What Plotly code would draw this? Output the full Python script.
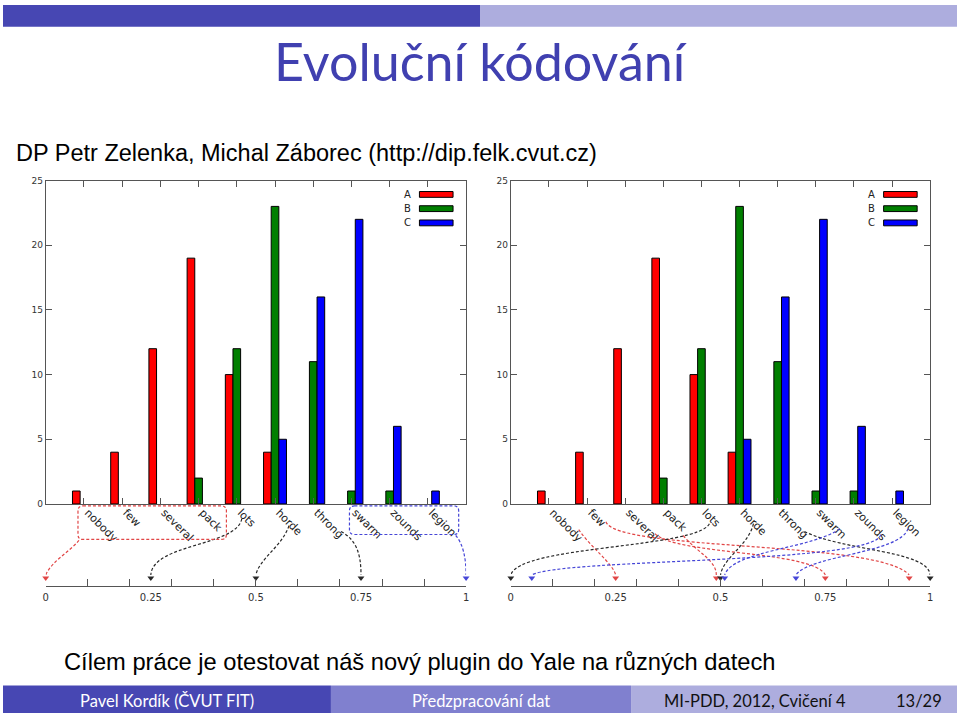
import plotly.graph_objects as go

# ---- data -----------------------------------------------------------------
categories = ["nobody", "few", "several", "pack", "lots",
              "horde", "throng", "swarm", "zounds", "legion"]
series_names = ["A", "B", "C"]
values_a = [1, 4, 12, 19, 10, 4, 0, 0, 0, 0]
values_b = [0, 0, 0, 2, 12, 23, 11, 1, 1, 0]
values_c = [0, 0, 0, 0, 0, 5, 16, 22, 6, 1]
series_colors = ["#ff0000", "#007f00", "#0000ff"]

# value on the [0, 1] scale that each category is encoded to
left_targets = [0, 0, 0, 0, 0.25, 0.5, 0.75, 1, 1, 1]
right_targets = [0.25, 0.95, 0.75, 0.49, 0, 0.5, 1, 0.51, 0.05, 0.68]
scale_labels = [0, 0.25, 0.5, 0.75, 1]
y_ticks = [0, 5, 10, 15, 20, 25]

# ---- slide geometry (pixels) ---------------------------------------------
FIG_W, FIG_H = 960, 718
PLOT_TOP, PLOT_BOTTOM = 178, 506
SCALE_Y = 589
CHARTS = [(43, 466), (511, 933)]   # left / right edge of each chart
N_SLOTS = len(categories) + 1       # category axis runs from -1 to n

RED = "rgb(225,70,70)"
BLACK = "rgb(40,40,40)"
BLUE = "rgb(70,70,215)"
group_colors = [RED] * 4 + [BLACK] * 3 + [BLUE] * 3
DASH = "3px,2px"

AXIS_FONT = dict(family="DejaVu Sans", size=9, color="#333")


def px(x):
    return x / FIG_W


def py(y):
    return 1 - y / FIG_H


fig = go.Figure()

# bars for both charts (the slide shows the same histogram twice)
for k, (xa, ya) in enumerate([("x", "y"), ("x2", "y2")]):
    for name, vals, col in zip(series_names, [values_a, values_b, values_c], series_colors):
        fig.add_trace(go.Bar(
            x=categories, y=vals, name=name, xaxis=xa, yaxis=ya,
            marker=dict(color=col, line=dict(color="black",
                                             width=[1 if v > 0 else 0 for v in vals])),
            showlegend=False,
        ))

frame = dict(showline=True, linecolor="#555", linewidth=1, mirror="ticks",
             ticks="inside", ticklen=6, tickcolor="#555", showgrid=False,
             zeroline=False)

layout_axes = {}
for k, (left, right) in enumerate(CHARTS):
    sx = "" if k == 0 else "2"
    layout_axes["xaxis" + sx] = dict(
        domain=[px(left), px(right)], anchor="y" + sx, type="category",
        range=[-1, len(categories)], tickangle=45,
        ticklabelstandoff=-3, ticklabelshift=4,
        tickfont=dict(family="DejaVu Sans", size=11, color="#222"), **frame)
    layout_axes["yaxis" + sx] = dict(
        domain=[py(PLOT_BOTTOM), py(PLOT_TOP)], anchor="x" + sx,
        range=[0, 25], tickvals=y_ticks, tickfont=AXIS_FONT, **frame)

# lower [0, 1] scales: ticks every 0.1 on one axis, labels on an overlay
y3_range = [0, SCALE_Y - PLOT_BOTTOM]
layout_axes["yaxis3"] = dict(domain=[py(SCALE_Y), py(PLOT_BOTTOM)], range=y3_range,
                             anchor="x3", visible=False, fixedrange=True)
for k, (left, right) in enumerate(CHARTS):
    base, over = ("x3", "x5") if k == 0 else ("x4", "x6")
    layout_axes["xaxis" + base[1:]] = dict(
        domain=[px(left), px(right)], anchor="y3", range=[0, 1],
        showline=True, linecolor="#555", linewidth=1,
        ticks="inside", ticklen=7, tickcolor="#555", tick0=0, dtick=0.1,
        showticklabels=False, showgrid=False, zeroline=False)
    layout_axes["xaxis" + over[1:]] = dict(
        overlaying=base, anchor="y3", range=[0, 1], tickvals=scale_labels,
        ticktext=[f"{v:g}" for v in scale_labels], ticks="", showline=False,
        ticklabelstandoff=4, showgrid=False, zeroline=False,
        tickfont=dict(family="DejaVu Sans", size=10, color="#333"))
    fig.add_trace(go.Scatter(x=scale_labels, y=[0] * len(scale_labels), xaxis=over, yaxis="y3",
                             mode="markers", marker=dict(opacity=0), showlegend=False,
                             hoverinfo="skip"))

shapes = []
annotations = []

# custom legend (label left of a wide swatch, as in gnuplot)
for k in range(2):
    sx = "" if k == 0 else "2"
    for j, (name, col) in enumerate(zip(series_names, series_colors)):
        yc = 0.957 - j * 0.044
        shapes.append(dict(type="rect", xref=f"x{sx} domain", yref=f"y{sx} domain",
                           x0=0.889, x1=0.969, y0=yc - 0.009, y1=yc + 0.009,
                           fillcolor=col, line=dict(color="black", width=1)))
        annotations.append(dict(text=name, xref=f"x{sx} domain", yref=f"y{sx} domain",
                                x=0.873, y=yc, xanchor="right", yanchor="middle",
                                showarrow=False, font=dict(family="DejaVu Sans", size=10, color="#222")))


# ---- dashed mapping arrows ------------------------------------------------
def to_u(chart, cat, dx):
    left, right = CHARTS[chart]
    return (cat + 1) / N_SLOTS + dx / (right - left)


def to_v(y_pixel):
    return SCALE_Y - y_pixel


def rounded_box(chart, c0, dx0, c1, dx1, ytop, ybot, color):
    left, right = CHARTS[chart]
    r = 5
    ru = r / (right - left)
    x0, x1 = to_u(chart, c0, dx0), to_u(chart, c1, dx1)
    y0, y1 = to_v(ybot), to_v(ytop)
    path = (f"M {x0 + ru},{y1} L {x1 - ru},{y1} Q {x1},{y1} {x1},{y1 - r} "
            f"L {x1},{y0 + r} Q {x1},{y0} {x1 - ru},{y0} L {x0 + ru},{y0} "
            f"Q {x0},{y0} {x0},{y0 + r} L {x0},{y1 - r} Q {x0},{y1} {x0 + ru},{y1} Z")
    shapes.append(dict(type="path", path=path, xref="x3" if chart == 0 else "x4", yref="y3",
                       line=dict(color=color, width=1.2, dash=DASH)))


# (source category, dx from its tick, start y, control-1 offset, control-2 offset)
left_arrows = [
    (0, -5, 543, (-10, -12), (6, 14)),
    (4, 5, 521, (-5, -28), (2, 32)),
    (5, 14, 528, (-6, -20), (3, 16)),
    (6, 28, 534, (15, -8), (0, 22)),
    (9, 28, 538, (7, -8), (0, 18)),
]
right_arrows = [
    (0, 30, 532, (12, -18), (-3, 12)),
    (1, 19, 524, (10, -30), (-30, 35)),
    (2, 30, 536, (20, -22), (-12, 25)),
    (3, 20, 538, (15, -18), (0, 15)),
    (4, 8, 526, (-12, -25), (8, 30)),
    (5, 14, 526, (-5, -22), (3, 18)),
    (6, 27, 534, (40, -20), (-2, 25)),
    (7, 24, 531, (-25, -20), (8, 25)),
    (8, 27, 537, (-5, -30), (30, 17)),
    (9, 16, 531, (-7, -25), (13, 20)),
]

END_V = 11
for chart, arrows, targets in [(0, left_arrows, left_targets), (1, right_arrows, right_targets)]:
    left, right = CHARTS[chart]
    w = right - left
    xref = "x3" if chart == 0 else "x4"
    tips_x, tips_c = [], []
    for cat, dx, ys, c1, c2 in arrows:
        color = group_colors[cat]
        sx_, sy_ = to_u(chart, cat, dx), to_v(ys)
        ex_, ey_ = targets[cat], END_V
        p1 = (sx_ + c1[0] / w, sy_ + c1[1])
        p2 = (ex_ + c2[0] / w, ey_ + c2[1])
        path = (f"M {sx_},{sy_} C {p1[0]},{p1[1]} {p2[0]},{p2[1]} {ex_},{ey_}")
        shapes.append(dict(type="path", path=path, xref=xref, yref="y3",
                           line=dict(color=color, width=1.2, dash=DASH)))
        tips_x.append(ex_)
        tips_c.append(color)
    fig.add_trace(go.Scatter(x=tips_x, y=[END_V - 3] * len(tips_x), xaxis=xref, yaxis="y3",
                             mode="markers", cliponaxis=False, showlegend=False, hoverinfo="skip",
                             marker=dict(symbol="triangle-down", size=6, color=tips_c)))

rounded_box(0, 0, -6, 3, 28, 508, 542, RED)
rounded_box(0, 7, -2, 9, 31, 508, 537, BLUE)

# ---- slide decoration -----------------------------------------------------
DARK = "#4747b3"
MID = "#8080cf"
LIGHT = "#adadde"
shapes += [
    dict(type="rect", xref="paper", yref="paper", x0=0, x1=0.5, y0=py(22), y1=1,
         fillcolor=DARK, line_width=0, layer="below"),
    dict(type="rect", xref="paper", yref="paper", x0=0.5, x1=1, y0=py(22), y1=1,
         fillcolor=LIGHT, line_width=0, layer="below"),
    dict(type="rect", xref="paper", yref="paper", x0=0, x1=px(330), y0=0, y1=py(690),
         fillcolor=DARK, line_width=0, layer="below"),
    dict(type="rect", xref="paper", yref="paper", x0=px(330), x1=px(632), y0=0, y1=py(690),
         fillcolor=MID, line_width=0, layer="below"),
    dict(type="rect", xref="paper", yref="paper", x0=px(632), x1=1, y0=0, y1=py(690),
         fillcolor=LIGHT, line_width=0, layer="below"),
]


def text(t, x, y, size, family="Lato", color="black", xanchor="center"):
    return dict(text=t, x=px(x), y=py(y), xref="paper", yref="paper", xanchor=xanchor,
                yanchor="middle", showarrow=False,
                font=dict(family=family, size=size, color=color))


annotations += [
    text("Evoluční kódování", 481, 57, 52, color="#4040b0"),
    text("DP Petr Zelenka, Michal Záborec (http://dip.felk.cvut.cz)", 11, 150, 23.5,
         family="Liberation Sans", xanchor="left"),
    text("Cílem práce je otestovat náš nový plugin do Yale na různých datech", 59, 666, 23.7,
         family="Liberation Sans", xanchor="left"),
    text("Pavel Kordík (ČVUT FIT)", 165, 706, 16.5, color="white"),
    text("Předzpracování dat", 481, 706, 16.5, color="white"),
    text("MI-PDD, 2012, Cvičení 4", 757, 706, 16.5, color="#111"),
    text("13/29", 922, 706, 16.5, color="#111"),
]

fig.update_layout(
    width=FIG_W, height=FIG_H, margin=dict(l=0, r=0, t=0, b=0),
    paper_bgcolor="white", plot_bgcolor="white",
    barmode="group", bargap=0.4, bargroupgap=0,
    shapes=shapes, annotations=annotations, **layout_axes,
)

# the slide fills the whole page, so drop the default body margin
fig.write_html("out.html", config={"displayModeBar": False},
               post_script="document.body.style.margin = '0';")
